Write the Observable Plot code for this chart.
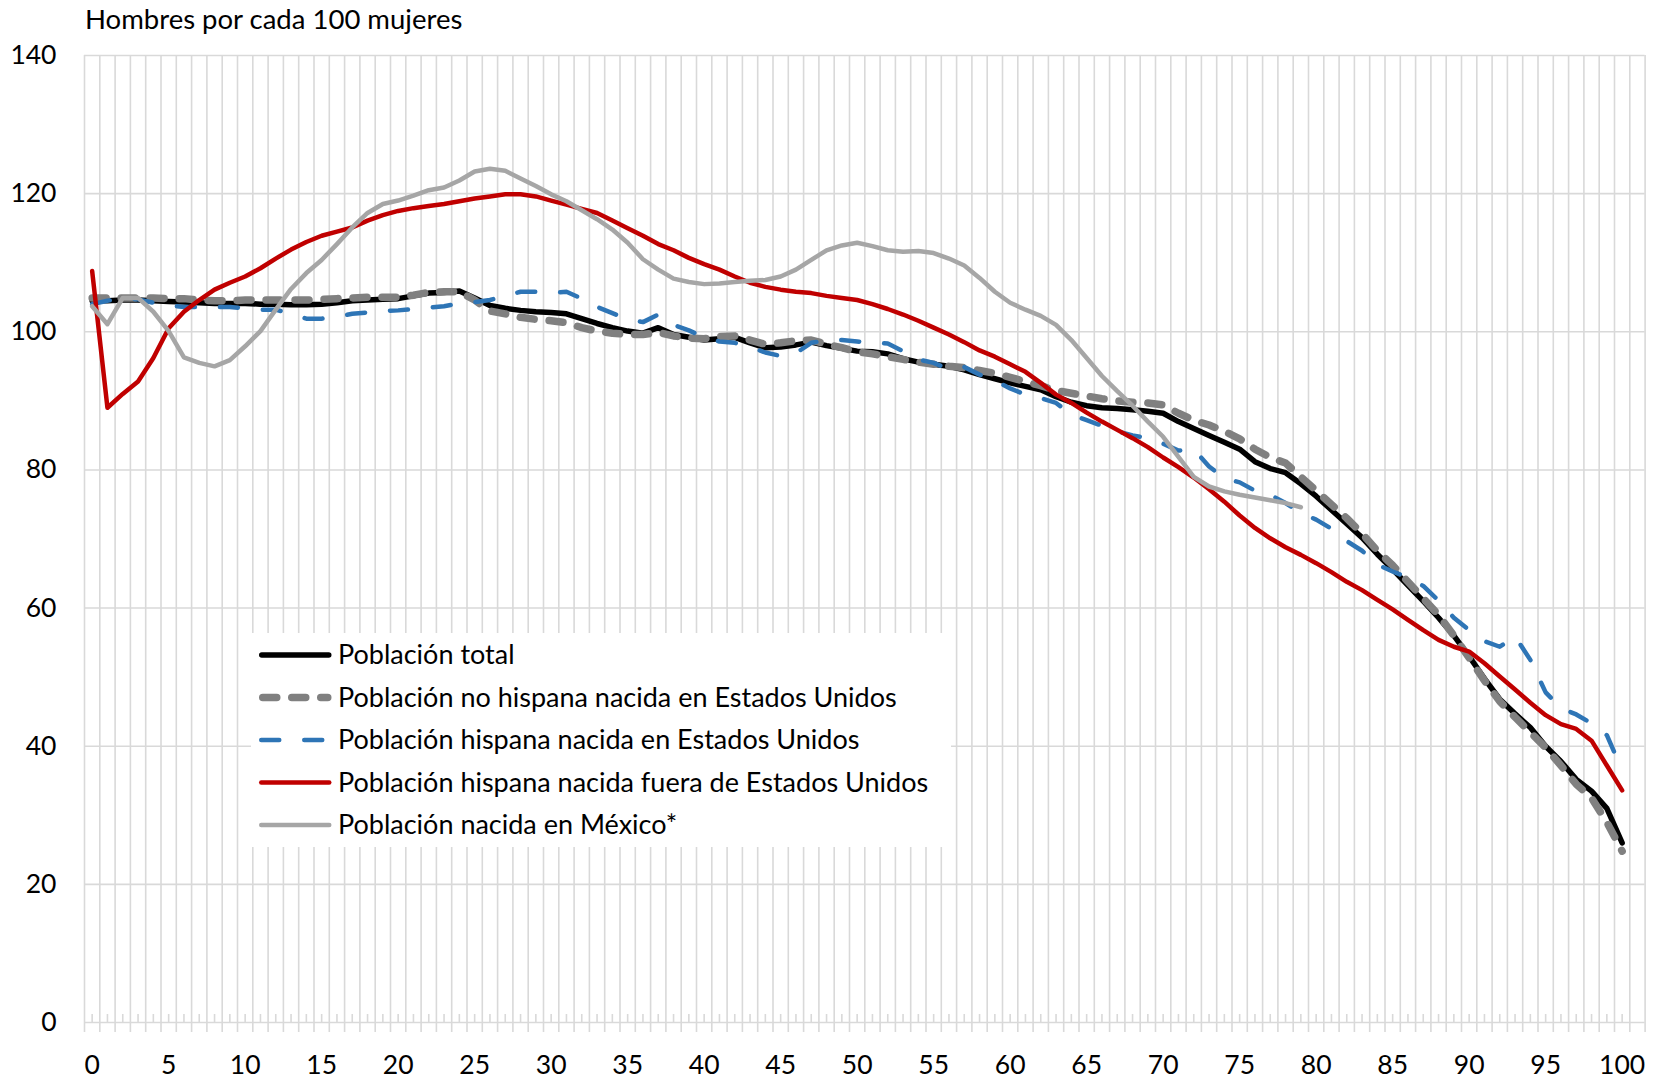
<!DOCTYPE html>
<html>
<head>
<meta charset="utf-8">
<script src="https://cdn.jsdelivr.net/npm/d3@7"></script>
<script src="https://cdn.jsdelivr.net/npm/@observablehq/plot@0.6"></script>
<style>
  body { margin: 0; background: #fff; }
  #wrap { position: relative; width: 1655px; height: 1081px; font-family: Lato, sans-serif; }
  #title { position: absolute; left: 85px; top: 5px; font-size: 27.5px; line-height: 27.5px; color: #000; white-space: nowrap; }
  #wrap svg { position: absolute; left: 0; top: 0; }
</style>
</head>
<body>
<div id="wrap"><div id="title">Hombres por cada 100 mujeres</div></div>
<script>
// ---- Data ----
const ages = d3.range(0, 101);
const xTickLabels = [0, 5, 10, 15, 20, 25, 30, 35, 40, 45, 50, 55, 60, 65, 70, 75, 80, 85, 90, 95, 100];
const yTicks = [0, 20, 40, 60, 80, 100, 120, 140];
const seriesNames = [
  "Población total",
  "Población no hispana nacida en Estados Unidos",
  "Población hispana nacida en Estados Unidos",
  "Población hispana nacida fuera de Estados Unidos",
  "Población nacida en México*"
];
const total = [
  104.5,104.5,104.6,104.6,104.5,104.4,104.3,104.2,104.1,104.1,
  104.1,104.0,104.0,103.9,103.9,104.0,104.2,104.5,104.6,104.7,
  104.8,105.2,105.6,105.7,105.9,104.9,103.8,103.4,103.1,102.9,
  102.8,102.6,101.9,101.2,100.6,100.1,99.8,100.6,99.6,99.2,
  98.8,99.0,99.2,98.4,97.7,97.8,98.1,98.5,98.0,97.6,
  97.2,97.1,96.8,96.1,95.6,95.3,95.0,94.5,93.8,93.2,
  92.6,92.1,91.6,90.6,89.8,89.3,89.0,88.9,88.7,88.5,
  88.2,87.0,86.0,85.0,84.0,83.0,81.2,80.2,79.6,78.0,
  76.2,74.2,72.2,70.2,67.8,65.6,63.3,61.0,58.6,56.0,
  53.0,49.8,46.8,44.7,42.7,40.0,37.8,35.2,33.5,31.0,
  26.0
];
const noHispanaEEUU = [
  104.9,104.9,104.9,104.9,104.9,104.8,104.8,104.6,104.5,104.5,
  104.6,104.6,104.6,104.6,104.6,104.7,104.8,104.9,105.0,105.0,
  105.0,105.3,105.7,105.8,105.8,104.6,103.0,102.6,102.1,101.8,
  101.6,101.3,100.6,100.1,99.8,99.6,99.6,99.9,99.4,99.1,
  99.0,99.3,99.4,98.8,98.2,98.4,98.7,98.8,98.2,97.7,
  97.1,96.8,96.4,96.0,95.6,95.3,95.0,94.8,94.4,94.0,
  93.4,92.8,92.2,91.5,91.1,90.7,90.3,90.0,89.8,89.7,
  89.4,88.2,87.2,86.5,85.6,84.5,83.0,81.8,81.0,79.0,
  77.0,75.0,73.0,70.8,68.3,66.2,63.8,61.4,59.0,56.0,
  52.8,49.5,46.5,44.2,42.0,39.8,37.2,34.5,32.5,29.0,
  24.8
];
const hispanaEEUU = [
  104.0,104.5,104.8,104.7,104.2,103.8,103.6,103.6,103.6,103.6,
  103.4,103.2,103.2,102.6,101.9,101.9,102.2,102.6,102.8,103.0,
  103.1,103.3,103.5,103.7,104.1,104.3,104.6,105.2,105.8,105.8,
  105.6,105.8,104.8,103.6,102.7,101.8,101.4,102.5,101.0,100.2,
  99.2,98.6,98.4,97.8,97.0,96.5,96.9,98.4,98.8,98.8,
  98.6,98.4,98.3,97.2,96.0,95.5,94.6,94.9,93.8,92.9,
  91.8,90.9,90.4,89.7,88.0,87.2,86.4,85.6,85.0,84.6,
  83.8,82.8,83.0,80.5,78.8,78.2,77.0,76.4,75.2,73.8,
  72.8,71.5,69.7,68.3,66.3,65.3,64.4,63.2,61.1,58.6,
  56.8,55.2,54.4,55.9,52.5,47.8,45.5,44.6,43.3,41.6,
  36.5
];
const hispanaFuera = [
  108.8,89.0,91.0,92.8,96.2,100.5,102.9,104.6,106.1,107.1,
  108.0,109.2,110.6,111.9,113.0,113.9,114.5,115.1,116.1,116.9,
  117.5,117.9,118.2,118.5,118.9,119.3,119.6,119.9,119.9,119.6,
  119.0,118.4,117.8,117.2,116.1,115.0,113.9,112.7,111.8,110.7,
  109.8,109.0,108.0,107.1,106.5,106.1,105.8,105.6,105.2,104.9,
  104.6,104.0,103.3,102.5,101.6,100.6,99.6,98.5,97.3,96.4,
  95.3,94.2,92.6,90.9,89.7,88.3,87.0,85.8,84.6,83.3,
  81.8,80.4,78.9,77.2,75.4,73.4,71.6,70.1,68.8,67.7,
  66.5,65.2,63.8,62.6,61.2,59.8,58.3,56.8,55.4,54.4,
  53.7,52.0,50.1,48.2,46.3,44.5,43.2,42.5,40.8,37.2,
  33.6
];
const mexico = [
  103.7,101.1,104.9,104.9,102.9,100.1,96.3,95.5,95.0,95.9,
  97.9,100.1,103.2,106.2,108.5,110.4,112.7,115.1,117.2,118.5,
  119.0,119.7,120.5,120.9,121.9,123.2,123.6,123.3,122.2,121.1,
  119.9,118.9,117.6,116.3,114.8,112.9,110.5,109.0,107.7,107.2,
  106.9,107.0,107.2,107.4,107.5,108.0,109.0,110.4,111.8,112.5,
  112.9,112.4,111.8,111.6,111.7,111.4,110.6,109.6,107.8,105.8,
  104.2,103.2,102.3,101.0,98.8,96.2,93.6,91.4,89.3,87.0,
  84.8,81.9,79.0,77.6,76.9,76.4,76.0,75.6,75.2,74.6
];

// ---- Styles ----
const seriesStyles = [
  {stroke: "#000000", strokeWidth: 5.5, dash: null},
  {stroke: "#808080", strokeWidth: 7.5, dash: "14,15"},
  {stroke: "#2e75b6", strokeWidth: 4.5, dash: "18,25"},
  {stroke: "#c00000", strokeWidth: 4.5, dash: null},
  {stroke: "#a6a6a6", strokeWidth: 4.5, dash: null}
];
const seriesValues = [total, noHispanaEEUU, hispanaEEUU, hispanaFuera, mexico];

const rows = seriesValues.map((vals, s) =>
  vals.map((v, i) => ({age: ages[i], value: v, series: seriesNames[s]})));

const boundaries = d3.range(-0.5, 101.6, 1);
const gridColor = "#d9d9d9";

const chart = Plot.plot({
  width: 1655,
  height: 1081,
  marginLeft: 84,
  marginRight: 10.4,
  marginTop: 55,
  marginBottom: 59,
  x: {domain: [-0.5, 101.5], label: null},
  y: {domain: [0, 140], label: null},
  style: {fontFamily: "Lato, sans-serif", fontSize: "26.5px", color: "#000", background: "transparent"},
  marks: [
    Plot.ruleY(yTicks, {stroke: gridColor, strokeWidth: 1.6}),
    Plot.ruleX(boundaries, {y1: 140, y2: 0, insetBottom: -10, stroke: gridColor, strokeWidth: 1.6}),
    Plot.ruleX(ages, {y1: 0, y2: 0, insetTop: -8, stroke: gridColor, strokeWidth: 1.6}),
    Plot.axisY(yTicks, {tickSize: 0, tickPadding: 28, fontSize: 26.5, fill: "#000"}),
    Plot.axisX(xTickLabels, {tickSize: 0, tickPadding: 33, fontSize: 26.5, fill: "#000"}),
    ...rows.map((data, s) => Plot.line(data, {
      x: "age", y: "value",
      stroke: seriesStyles[s].stroke,
      strokeWidth: seriesStyles[s].strokeWidth,
      strokeDasharray: seriesStyles[s].dash,
      strokeLinecap: "round",
      strokeLinejoin: "round",
      curve: "linear"
    }))
  ]
});
document.getElementById("wrap").appendChild(chart);

// ---- Legend (inside the plot area, white box) ----
const legend = d3.create("svg")
  .attr("width", 700).attr("height", 214)
  .style("position", "absolute").style("left", "251px").style("top", "633px");
legend.append("rect").attr("width", 700).attr("height", 214).attr("fill", "#fff");
seriesNames.forEach((name, i) => {
  const st = seriesStyles[i];
  const cy = 22 + i * 42.5;
  const half = st.strokeWidth / 2;
  legend.append("line")
    .attr("x1", 8 + half).attr("x2", 80.5 - half)
    .attr("y1", cy).attr("y2", cy)
    .attr("stroke", st.stroke)
    .attr("stroke-width", st.strokeWidth)
    .attr("stroke-linecap", "round")
    .attr("stroke-dasharray", st.dash);
  legend.append("text")
    .attr("x", 87).attr("y", cy).attr("dy", "0.35em")
    .attr("font-family", "Lato, sans-serif").attr("font-size", 27)
    .attr("fill", "#000")
    .text(name);
});
document.getElementById("wrap").appendChild(legend.node());
</script>
</body>
</html>
